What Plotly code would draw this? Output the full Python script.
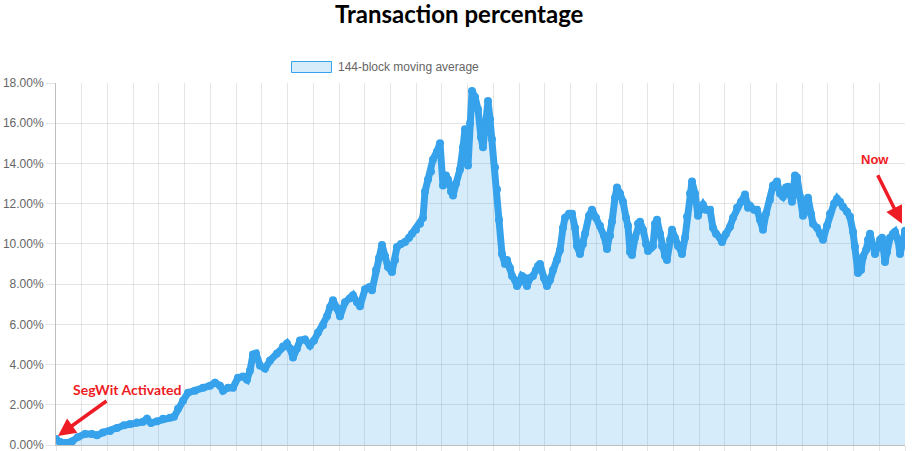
import plotly.graph_objects as go

# ---- data ----
t = [0, 4, 10, 16, 22, 29, 36, 41, 47, 54, 61, 68, 74, 81, 87, 91, 95, 101, 107, 114, 118,
     122, 127, 132, 139, 147, 154, 159, 164, 167, 172, 177, 182, 187, 191, 194, 197, 200,
     204, 209, 214, 221, 227, 231, 234, 237, 241, 244, 249, 254, 258, 262, 267, 271, 274,
     277, 281, 284, 289, 294, 297, 301, 304, 309, 313, 316, 320, 323, 326, 329, 332, 336,
     339, 341, 345, 349, 353, 356, 360, 364, 367, 369, 372, 375, 377, 381, 384, 387, 390,
     392, 395, 397, 400, 404, 407, 409, 412, 414, 416, 419, 422, 425, 427, 429, 432, 434,
     436, 439, 441, 443, 446, 449, 451, 454, 456, 459, 461, 464, 466, 469, 471, 474, 477,
     480, 482, 484, 488, 491, 494, 497, 501, 504, 507, 509, 513, 516, 519, 521, 524, 527,
     529, 533, 536, 540, 544, 548, 551, 554, 556, 559, 561, 564, 567, 570, 572, 574, 576,
     579, 582, 584, 587, 590, 592, 595, 597, 599, 601, 604, 606, 609, 611, 614, 616, 619,
     622, 626, 629, 631, 634, 636, 639, 642, 644, 647, 650, 654, 657, 660, 664, 666, 670,
     674, 677, 681, 685, 689, 692, 694, 698, 701, 704, 707, 710, 714, 717, 721, 724, 727,
     730, 732, 736, 739, 741, 744, 747, 750, 752, 755, 757, 761, 764, 767, 771, 774, 778,
     781, 784, 787, 791, 794, 797, 799, 802, 805, 807, 810, 812, 814, 817, 819, 821, 824,
     826, 829, 831, 834, 837, 839, 842, 844, 847, 849]
pct = [0.30, 0.15, 0.10, 0.18, 0.40, 0.55, 0.55, 0.48, 0.62, 0.70, 0.85, 0.98, 1.05, 1.12,
       1.15, 1.30, 1.10, 1.18, 1.30, 1.35, 1.40, 1.80, 2.20, 2.60, 2.70, 2.85, 2.95, 3.10,
       2.95, 2.70, 2.85, 2.85, 3.35, 3.40, 3.25, 3.70, 4.50, 4.55, 3.95, 3.80, 4.20, 4.55,
       4.90, 5.05, 4.80, 4.35, 4.80, 5.20, 5.25, 4.95, 5.20, 5.60, 5.95, 6.40, 6.85, 7.20,
       6.80, 6.40, 7.10, 7.30, 7.45, 7.10, 6.90, 7.75, 7.85, 7.70, 8.70, 9.30, 9.95, 9.40,
       8.85, 8.60, 9.20, 9.85, 10.00, 10.10, 10.30, 10.50, 10.70, 11.00, 11.30, 12.60, 13.20,
       13.60, 14.20, 14.60, 15.00, 12.90, 13.40, 13.20, 12.60, 12.40, 13.00, 13.70, 14.80,
       15.70, 13.90, 16.00, 17.60, 17.30, 16.70, 15.30, 14.80, 15.70, 17.10, 16.20, 15.20,
       13.80, 12.70, 11.20, 9.50, 9.00, 9.20, 8.80, 8.40, 8.20, 7.90, 8.10, 8.40, 8.30, 7.90,
       8.30, 8.40, 8.70, 8.90, 9.00, 8.30, 7.90, 8.20, 8.70, 9.20, 9.70, 10.80, 11.30, 11.50,
       11.50, 10.80, 9.90, 9.50, 10.00, 10.50, 11.40, 11.70, 11.30, 10.90, 10.40, 9.75,
       10.40, 11.10, 12.30, 12.80, 12.50, 12.10, 11.30, 10.90, 9.60, 9.45, 10.30, 11.00,
       11.10, 10.70, 10.00, 9.65, 9.80, 9.90, 11.00, 11.20, 10.50, 9.90, 9.40, 9.20, 10.20,
       10.70, 10.30, 9.90, 9.50, 10.30, 11.35, 12.50, 13.10, 12.50, 11.40, 11.70, 11.95,
       11.70, 11.70, 10.80, 10.50, 10.30, 10.10, 10.50, 10.85, 11.30, 11.80, 12.10, 12.45,
       11.80, 11.90, 11.70, 11.70, 11.20, 10.70, 11.50, 12.20, 12.90, 13.10, 12.50, 12.35,
       12.80, 12.84, 12.10, 13.40, 13.30, 12.35, 11.40, 12.00, 12.30, 11.50, 11.00, 10.80,
       10.50, 10.20, 10.90, 11.50, 12.00, 12.25, 12.10, 11.85, 11.60, 11.35, 10.60, 9.86,
       8.55, 8.70, 9.36, 9.70, 10.20, 10.50, 9.90, 9.50, 9.80, 10.20, 10.30, 9.10, 9.60,
       10.30, 10.50, 10.60, 10.20, 9.50, 10.10, 10.65]
series_name = "144-block moving average"
y_ticks = [0, 2, 4, 6, 8, 10, 12, 14, 16, 18]
title_text = "Transaction percentage"

BLUE = "rgb(54,162,235)"
FILL = "rgba(54,162,235,0.2)"
GRID = "rgba(0,0,0,0.1)"
AXIS = "rgba(0,0,0,0.25)"
RED = "#ee1c25"

W, H = 913, 451
L, R, T, B = 56, 8, 83, 6
PW, PH = W - L - R, H - T - B


def px(x):
    return (x - L) / PW


def py(y):
    return (H - B - y) / PH


fig = go.Figure()
fig.add_trace(go.Scatter(
    x=t, y=pct, mode="lines+markers", name=series_name,
    line=dict(color=BLUE, width=7),
    marker=dict(color=BLUE, size=8),
    fill="tozeroy", fillcolor=FILL, showlegend=False, hoverinfo="skip",
))

n_int = 33
fig.update_layout(
    width=W, height=H, autosize=False,
    margin=dict(l=L, r=R, t=T, b=B, pad=0),
    paper_bgcolor="white", plot_bgcolor="white",
    title=dict(text="<b>" + title_text + "</b>", x=0.503, xref="container", xanchor="center",
               y=1 - 15 / H, yref="container", yanchor="middle",
               font=dict(family="Lato", size=24, color="black")),
    xaxis=dict(range=[0, 849], tick0=0, dtick=849 / n_int, showticklabels=False,
               automargin=False,
               showgrid=True, gridcolor=GRID, gridwidth=1, zeroline=False,
               showline=True, linecolor=AXIS, linewidth=1,
               ticks="outside", ticklen=6, tickcolor=GRID),
    yaxis=dict(range=[0, 18], tickvals=y_ticks, ticktext=[f"{v:.2f}%" for v in y_ticks],
               automargin=False, ticklabeloverflow="allow",
               showgrid=True, gridcolor=GRID, gridwidth=1, zeroline=False,
               showline=True, linecolor=AXIS, linewidth=1,
               ticks="outside", ticklen=9, tickcolor=GRID,
               tickfont=dict(family="Liberation Sans", size=12, color="#666")),
    showlegend=False,
)

# legend (Chart.js style)
fig.add_shape(type="rect", xref="paper", yref="paper",
              x0=px(291.5), x1=px(331.5), y0=py(72.5), y1=py(61.5),
              line=dict(color=BLUE, width=1), fillcolor=FILL)
fig.add_annotation(xref="paper", yref="paper", x=px(336), y=py(67), text=series_name,
                   showarrow=False, xanchor="left", yanchor="middle",
                   font=dict(family="Liberation Sans", size=12, color="#666"))

# callouts
fig.add_annotation(x=2, y=0.45, ax=50, ay=-36, axref="pixel", ayref="pixel", text="",
                   showarrow=True, arrowhead=2, arrowsize=1, arrowwidth=3.5, arrowcolor=RED)
fig.add_annotation(x=71, y=2.78, text="<b>SegWit Activated</b>", showarrow=False,
                   font=dict(family="Lato", size=14, color=RED))
fig.add_annotation(x=846, y=11.0, ax=-25, ay=-50, axref="pixel", ayref="pixel", text="",
                   showarrow=True, arrowhead=2, arrowsize=1, arrowwidth=3.5, arrowcolor=RED)
fig.add_annotation(x=819, y=14.2, text="<b>Now</b>", showarrow=False,
                   font=dict(family="Liberation Sans", size=13, color=RED))

fig.write_html("out.html")
